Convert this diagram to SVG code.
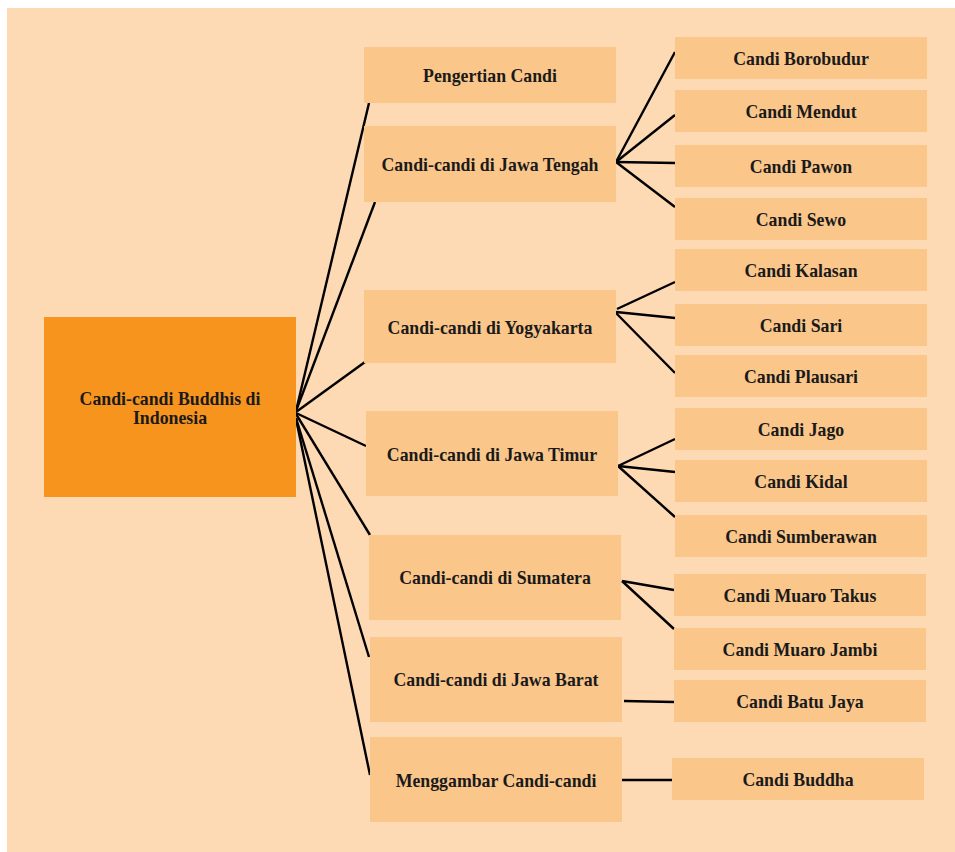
<svg xmlns="http://www.w3.org/2000/svg" width="955" height="852" viewBox="0 0 955 852">
<style>
.bg{fill:#FDDAB4}
.n{fill:#FBC68A}
.root{fill:#F7941E}
text{font-family:"Liberation Serif","Times New Roman",serif;font-weight:bold;font-size:17.8px;fill:#1a1a1a;text-anchor:middle}
.c line{stroke:#000;stroke-width:2.4;stroke-linecap:butt}
</style>
<rect class="bg" x="7" y="8" width="948" height="844"/>
<g class="c" id="connectors">
<line x1="296" y1="411" x2="369" y2="103"/>
<line x1="296" y1="411" x2="375" y2="202"/>
<line x1="296" y1="412" x2="365" y2="362"/>
<line x1="296" y1="413" x2="366" y2="446"/>
<line x1="296" y1="414" x2="370" y2="535"/>
<line x1="296" y1="418" x2="369" y2="657"/>
<line x1="296" y1="419" x2="370" y2="775"/>
<line x1="616" y1="162" x2="675" y2="52"/>
<line x1="616" y1="162" x2="675" y2="115"/>
<line x1="616" y1="162" x2="675" y2="163"/>
<line x1="616" y1="162" x2="675" y2="207"/>
<line x1="617" y1="309" x2="675" y2="282"/>
<line x1="616" y1="312" x2="675" y2="318"/>
<line x1="616" y1="313" x2="675" y2="373"/>
<line x1="618" y1="466" x2="675" y2="439"/>
<line x1="618" y1="466" x2="675" y2="472"/>
<line x1="618" y1="466" x2="675" y2="517"/>
<line x1="622" y1="581" x2="674" y2="590"/>
<line x1="622" y1="581" x2="674" y2="629"/>
<line x1="624" y1="701" x2="674" y2="702"/>
<line x1="622" y1="780" x2="672" y2="780"/>
</g>
<g id="root"><rect class="root" x="44" y="317" width="252" height="180"/><text x="170" y="405">Candi-candi Buddhis di</text><text x="170" y="424">Indonesia</text></g>
<g id="pengertian"><rect class="n" x="364" y="47" width="252" height="56"/><text x="490" y="82">Pengertian Candi</text></g>
<g id="jateng"><rect class="n" x="364" y="126" width="252" height="76"/><text x="490" y="171">Candi-candi di Jawa Tengah</text></g>
<g id="yogya"><rect class="n" x="364" y="290" width="252" height="73"/><text x="490" y="334">Candi-candi di Yogyakarta</text></g>
<g id="jatim"><rect class="n" x="366" y="411" width="252" height="85"/><text x="492" y="461">Candi-candi di Jawa Timur</text></g>
<g id="sumatera"><rect class="n" x="369" y="535" width="252" height="85"/><text x="495" y="584">Candi-candi di Sumatera</text></g>
<g id="jabar"><rect class="n" x="370" y="637" width="252" height="85"/><text x="496" y="686">Candi-candi di Jawa Barat</text></g>
<g id="menggambar"><rect class="n" x="370" y="737" width="252" height="85"/><text x="496" y="787">Menggambar Candi-candi</text></g>
<g id="borobudur"><rect class="n" x="675" y="37" width="252" height="42"/><text x="801" y="65">Candi Borobudur</text></g>
<g id="mendut"><rect class="n" x="675" y="90" width="252" height="42"/><text x="801" y="118">Candi Mendut</text></g>
<g id="pawon"><rect class="n" x="675" y="145" width="252" height="42"/><text x="801" y="173">Candi Pawon</text></g>
<g id="sewo"><rect class="n" x="675" y="198" width="252" height="42"/><text x="801" y="226">Candi Sewo</text></g>
<g id="kalasan"><rect class="n" x="675" y="249" width="252" height="42"/><text x="801" y="277">Candi Kalasan</text></g>
<g id="sari"><rect class="n" x="675" y="304" width="252" height="42"/><text x="801" y="332">Candi Sari</text></g>
<g id="plausari"><rect class="n" x="675" y="355" width="252" height="42"/><text x="801" y="383">Candi Plausari</text></g>
<g id="jago"><rect class="n" x="675" y="408" width="252" height="42"/><text x="801" y="436">Candi Jago</text></g>
<g id="kidal"><rect class="n" x="675" y="460" width="252" height="42"/><text x="801" y="488">Candi Kidal</text></g>
<g id="sumberawan"><rect class="n" x="675" y="515" width="252" height="42"/><text x="801" y="543">Candi Sumberawan</text></g>
<g id="muarotakus"><rect class="n" x="674" y="574" width="252" height="42"/><text x="800" y="602">Candi Muaro Takus</text></g>
<g id="muarojambi"><rect class="n" x="674" y="628" width="252" height="42"/><text x="800" y="656">Candi Muaro Jambi</text></g>
<g id="batujaya"><rect class="n" x="674" y="680" width="252" height="42"/><text x="800" y="708">Candi Batu Jaya</text></g>
<g id="buddha"><rect class="n" x="672" y="758" width="252" height="42"/><text x="798" y="786">Candi Buddha</text></g>
</svg>
